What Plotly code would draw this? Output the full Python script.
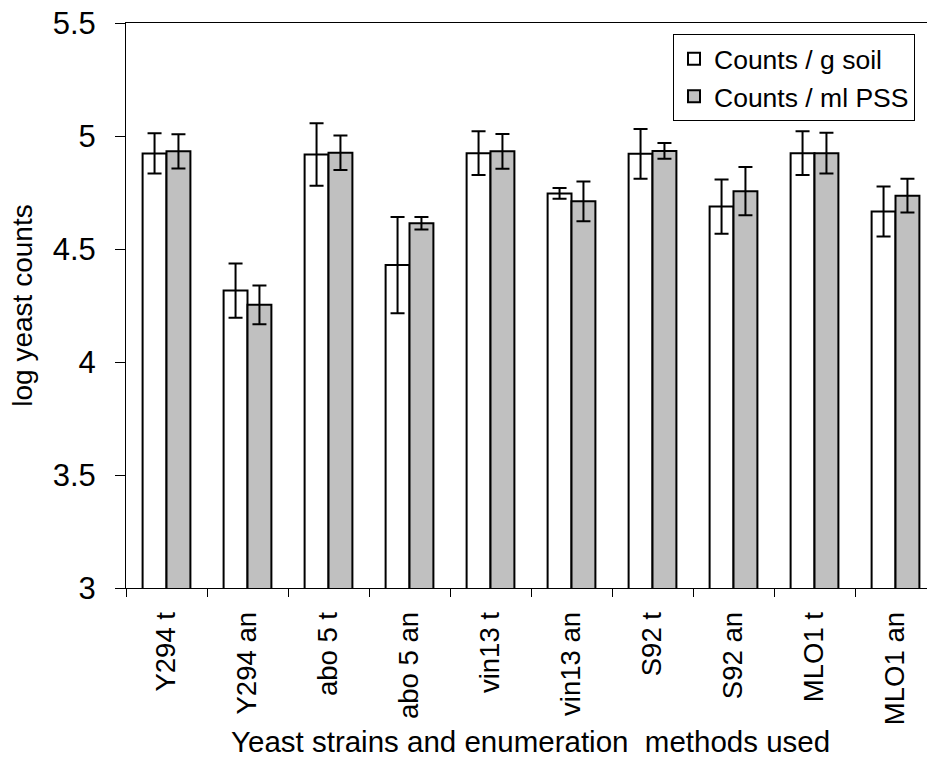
import plotly.graph_objects as go

categories = ["Y294 t", "Y294 an", "abo 5 t", "abo 5 an", "vin13 t",
              "vin13 an", "S92 t", "S92 an", "MLO1 t", "MLO1 an"]
soil_counts = [4.923, 4.316, 4.918, 4.429, 4.924, 4.746, 4.921, 4.688, 4.924, 4.666]
soil_err = [0.089, 0.120, 0.138, 0.213, 0.097, 0.024, 0.110, 0.120, 0.097, 0.111]
pss_counts = [4.932, 4.253, 4.926, 4.614, 4.932, 4.711, 4.934, 4.756, 4.924, 4.736]
pss_err = [0.076, 0.086, 0.076, 0.028, 0.077, 0.088, 0.035, 0.107, 0.090, 0.075]
y_ticks = [3, 3.5, 4, 4.5, 5, 5.5]
y_tick_text = ["3", "3.5", "4", "4.5", "5", "5.5"]

FONT = "Liberation Sans, Arial, sans-serif"

L, R, T, B = 126, 0, 23, 170
PW = 927 - L - R
PH = 758 - T - B

fig = go.Figure()
fig.add_trace(go.Bar(
    name="Counts / g soil", x=categories, y=soil_counts,
    marker=dict(color="white", line=dict(color="black", width=2)),
    error_y=dict(type="data", array=soil_err, color="black", thickness=2, width=7),
    legendgroup="a",
))
fig.add_trace(go.Bar(
    name="Counts / ml PSS", x=categories, y=pss_counts,
    marker=dict(color="#C0C0C0", line=dict(color="black", width=2)),
    error_y=dict(type="data", array=pss_err, color="black", thickness=2, width=7),
    legendgroup="b",
))

fig.update_layout(
    width=927, height=758,
    margin=dict(l=L, r=R, t=T, b=B, autoexpand=False),
    paper_bgcolor="white", plot_bgcolor="white",
    barmode="group", bargap=0.41, bargroupgap=0,
    font=dict(family=FONT, color="black"),
    showlegend=True,
    legend=dict(
        x=(915 - L) / PW, xanchor="right",
        y=(T + PH - 34) / PH, yanchor="top",
        bgcolor="white", bordercolor="black", borderwidth=1,
        font=dict(size=26.5, family=FONT, color="black"),
        traceorder="grouped", tracegroupgap=0,
    ),
    xaxis=dict(
        type="category", range=[-0.5, -0.5 + PW / 81], automargin=False,
        showline=True, linecolor="black", linewidth=1, mirror=True,
        ticks="outside", tickson="boundaries", ticklen=8, tickcolor="black", tickwidth=1,
        tickangle=-90, tickfont=dict(size=27.5, family=FONT), ticklabelstandoff=12,
        showgrid=False, zeroline=False,
        title=dict(text="&nbsp;Yeast strains and enumeration&nbsp; methods used",
                   font=dict(size=29.5, family=FONT), standoff=8),
    ),
    yaxis=dict(
        range=[3, 5.5], tickvals=y_ticks, ticktext=y_tick_text, automargin=False,
        showline=True, linecolor="black", linewidth=1,
        ticks="outside", ticklen=10, tickcolor="black", tickwidth=1,
        tickfont=dict(size=31, family=FONT), ticklabelstandoff=13,
        ticklabeloverflow="allow",
        showgrid=False, zeroline=False,
        title=dict(text="log yeast counts", font=dict(size=28, family=FONT), standoff=11),
    ),
)

fig.write_html("out.html", config={"displayModeBar": False},
               post_script="document.body.style.margin='0';")
